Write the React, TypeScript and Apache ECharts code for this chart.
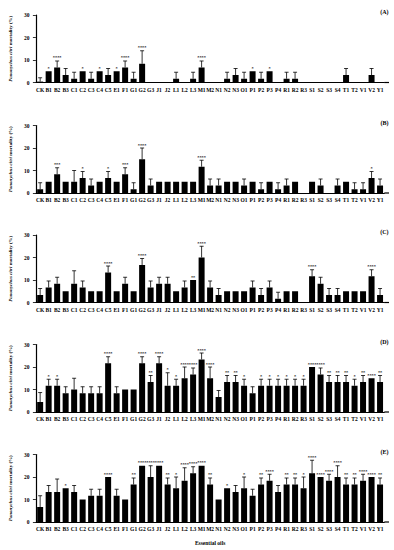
import React, { useEffect, useRef } from 'react';
import * as echarts from 'echarts';

const categories = ['CK', 'B1', 'B2', 'B3', 'C1', 'C2', 'C3', 'C4', 'C5', 'E1', 'F1', 'G1', 'G2', 'G3', 'J1', 'J2', 'L1', 'L2', 'L3', 'M1', 'M2', 'N1', 'N2', 'N3', 'O1', 'P1', 'P2', 'P3', 'P4', 'R1', 'R2', 'R3', 'S1', 'S2', 'S3', 'S4', 'T1', 'T2', 'V1', 'V2', 'Y1'];

// Panel A
const meanA = [0.4, 5, 6.67, 3.33, 1.67, 5, 1.67, 5, 3.33, 5, 6.67, 1.67, 8.33, 0, 0, 0, 1.67, 0, 1.67, 6.67, 0, 0, 1.67, 3.33, 1.67, 5, 1.67, 5, 0, 1.67, 1.67, 0, 0, 0, 0, 0, 3.33, 0, 0, 3.33, 0];
const sdA = [1.7, 0, 2.89, 2.89, 2.89, 0, 2.89, 0, 2.89, 0, 2.89, 2.89, 5.77, 0, 0, 0, 2.89, 0, 2.89, 2.89, 0, 0, 2.89, 2.89, 2.89, 0, 2.89, 0, 0, 2.89, 2.89, 0, 0, 0, 0, 0, 2.89, 0, 0, 2.89, 0];
const sigA = ['', '*', '****', '', '', '*', '', '*', '', '*', '****', '', '****', '', '', '', '', '', '', '****', '', '', '', '', '', '*', '', '*', '', '', '', '', '', '', '', '', '', '', '', '', ''];

// Panel B
const meanB = [1.67, 5, 8.33, 5, 5, 6.67, 3.33, 5, 6.67, 5, 8.33, 1.67, 15, 3.33, 5, 5, 5, 5, 5, 11.67, 3.33, 3.33, 5, 5, 3.33, 5, 1.67, 5, 1.67, 3.33, 5, 0, 5, 3.33, 0, 3.33, 5, 1.67, 1.67, 6.67, 3.33];
const sdB = [2.89, 0, 2.89, 0, 5, 2.89, 2.89, 0, 2.89, 0, 2.89, 2.89, 5, 2.89, 0, 0, 0, 0, 0, 2.89, 2.89, 2.89, 0, 0, 2.89, 0, 2.89, 0, 2.89, 2.89, 0, 0, 0, 2.89, 0, 2.89, 0, 2.89, 2.89, 2.89, 2.89];
const sigB = ['', '', '***', '', '', '*', '', '', '*', '', '***', '', '****', '', '', '', '', '', '', '****', '', '', '', '', '', '', '', '', '', '', '', '', '', '', '', '', '', '', '', '*', ''];

// Panel C
const meanC = [3.33, 6.67, 8.33, 5, 8.33, 6.67, 5, 5, 13.33, 5, 8.33, 5, 16.67, 6.67, 8.33, 8.33, 5, 6.67, 10, 20, 6.67, 3.33, 5, 5, 5, 6.67, 3.33, 6.67, 1.67, 5, 5, 0, 11.67, 8.33, 3.33, 3.33, 5, 5, 5, 11.67, 3.33];
const sdC = [2.89, 2.89, 2.89, 0, 5.77, 2.89, 0, 0, 2.89, 0, 2.89, 0, 2.89, 2.89, 2.89, 2.89, 0, 2.89, 0, 5, 2.89, 2.89, 0, 0, 0, 2.89, 2.89, 2.89, 2.89, 0, 0, 0, 2.89, 2.89, 2.89, 2.89, 0, 0, 0, 2.89, 2.89];
const sigC = ['', '', '', '', '', '', '', '', '****', '', '', '', '****', '', '', '', '', '', '**', '****', '', '', '', '', '', '', '', '', '', '', '', '', '****', '', '', '', '', '', '', '****', ''];

// Panel D
const meanD = [4.44, 11.67, 11.67, 8.33, 10, 8.33, 8.33, 8.33, 21.67, 8.33, 10, 10, 21.67, 13.33, 21.67, 11.67, 11.67, 15, 16.67, 23.33, 15, 6.67, 13.33, 13.33, 11.67, 8.33, 11.67, 11.67, 11.67, 11.67, 11.67, 11.67, 20, 16.67, 13.33, 13.33, 13.33, 11.67, 13.33, 15, 13.33];
const sdD = [4.2, 2.89, 2.89, 2.89, 5, 2.89, 2.89, 2.89, 2.89, 2.89, 0, 0, 2.89, 2.89, 2.89, 5.77, 2.89, 5, 2.89, 2.89, 5, 2.89, 2.89, 2.89, 2.89, 2.89, 2.89, 2.89, 2.89, 2.89, 2.89, 2.89, 0, 2.89, 2.89, 2.89, 2.89, 2.89, 2.89, 0, 2.89];
const sigD = ['', '*', '*', '', '', '', '', '', '****', '', '', '', '****', '**', '****', '*', '*', '****', '****', '****', '****', '', '**', '**', '*', '', '*', '*', '*', '*', '*', '*', '****', '****', '**', '**', '**', '*', '**', '****', '**'];

// Panel E
const meanE = [6.67, 13.33, 13.33, 15, 13.33, 10, 11.67, 11.67, 20, 11.67, 10, 16.67, 25, 20, 25, 16.67, 15, 18.33, 21.67, 25, 16.67, 10, 15, 13.33, 15, 11.67, 16.67, 18.33, 13.33, 16.67, 16.67, 15, 21.67, 20, 18.33, 20, 16.67, 16.67, 18.33, 20, 16.67];
const sdE = [5, 2.89, 5.77, 0, 2.89, 0, 2.89, 2.89, 0, 2.89, 0, 2.89, 0, 5, 0, 2.89, 5, 5.77, 2.89, 0, 2.89, 0, 0, 2.89, 5, 2.89, 2.89, 2.89, 2.89, 2.89, 2.89, 5, 5.77, 0, 2.89, 5, 2.89, 2.89, 2.89, 0, 2.89];
const sigE = ['', '', '', '*', '', '', '', '', '****', '', '', '**', '****', '****', '****', '**', '*', '****', '****', '****', '**', '', '*', '', '*', '', '**', '****', '', '**', '**', '*', '****', '****', '****', '****', '**', '**', '****', '****', '**'];

const panelLabels = ['(A)', '(B)', '(C)', '(D)', '(E)'];
const yMin = 0;
const yMax = 30;
const yInterval = 10;
const xTitle = 'Essential oils';

const FONT = '"Liberation Serif", "Times New Roman", serif';
const GRID_TOPS = [15, 125.5, 235, 344.5, 454.5];
const GRID_H = 67.5;
const GRID_LEFT = 24.5;
const GRID_RIGHT = 9.7;
const W = 394;

export default function App() {
  const ref = useRef<HTMLDivElement>(null);
  useEffect(() => {
    const chart = echarts.init(ref.current!, null, { renderer: 'svg' });
    const panels = [
      { mean: meanA, sd: sdA, sig: sigA },
      { mean: meanB, sd: sdB, sig: sigB },
      { mean: meanC, sd: sdC, sig: sigC },
      { mean: meanD, sd: sdD, sig: sigD },
      { mean: meanE, sd: sdE, sig: sigE },
    ];
    const grids: any[] = [];
    const xAxes: any[] = [];
    const yAxes: any[] = [];
    const series: any[] = [];
    const graphics: any[] = [];
    panels.forEach((p, i) => {
      grids.push({ left: GRID_LEFT, right: GRID_RIGHT, top: GRID_TOPS[i], height: GRID_H });
      const xa: any = {
        type: 'category',
        gridIndex: i,
        data: categories,
        axisLine: { lineStyle: { color: '#000', width: 1.2 } },
        axisTick: { alignWithLabel: true, length: 2, lineStyle: { color: '#000', width: 0.8 } },
        axisLabel: { interval: 0, fontSize: 5.5, fontWeight: 'bold', fontFamily: FONT, color: '#000', margin: 4 },
      };
      if (i === 4) {
        xa.name = xTitle;
        xa.nameLocation = 'middle';
        xa.nameGap = 18;
        xa.nameTextStyle = { fontSize: 5.5, fontWeight: 'bold', fontFamily: FONT, color: '#000' };
      }
      xAxes.push(xa);
      yAxes.push({
        type: 'value',
        gridIndex: i,
        min: yMin,
        max: yMax,
        interval: yInterval,
        axisLine: { show: true, lineStyle: { color: '#000', width: 1.2 } },
        axisTick: { show: true, length: 3, lineStyle: { color: '#000', width: 0.8 } },
        splitLine: { show: false },
        axisLabel: { fontSize: 5.5, fontWeight: 'bold', fontFamily: FONT, color: '#000', margin: 6.5 },
        name: '{i|Panonychus citri} mortality (%)',
        nameLocation: 'middle',
        nameRotate: 90,
        nameGap: 14,
        nameTextStyle: {
          fontSize: 5,
          fontWeight: 'bold',
          fontFamily: FONT,
          color: '#000',
          rich: { i: { fontSize: 5, fontWeight: 'bold', fontStyle: 'italic', fontFamily: FONT, color: '#000' } },
        },
      });
      series.push({
        type: 'bar',
        xAxisIndex: i,
        yAxisIndex: i,
        data: p.mean,
        barWidth: 6,
        itemStyle: { color: '#000' },
        silent: true,
      });
      series.push({
        type: 'custom',
        xAxisIndex: i,
        yAxisIndex: i,
        data: p.mean.map((m, k) => [k, m + p.sd[k]]),
        encode: { x: 0, y: 1 },
        z: 5,
        silent: true,
        renderItem: (params: any, api: any) => {
          const k = params.dataIndex;
          const m = p.mean[k];
          const s = p.sd[k];
          const sig = p.sig[k];
          const base = api.coord([k, m]);
          const top = api.coord([k, m + s]);
          const children: any[] = [];
          if (s > 0) {
            children.push({
              type: 'line',
              shape: { x1: base[0], y1: base[1], x2: top[0], y2: top[1] },
              style: { stroke: '#000', lineWidth: 0.8 },
            });
            children.push({
              type: 'line',
              shape: { x1: top[0] - 2, y1: top[1], x2: top[0] + 2, y2: top[1] },
              style: { stroke: '#000', lineWidth: 0.8 },
            });
          }
          if (sig) {
            children.push({
              type: 'text',
              x: top[0],
              y: top[1] - 3,
              style: {
                text: sig,
                fill: '#000',
                font: `bold 4.3px ${FONT}`,
                align: 'center',
                verticalAlign: 'middle',
              },
            });
          }
          return { type: 'group', children };
        },
      });
      const y0 = GRID_TOPS[i] + GRID_H;
      graphics.push({
        type: 'line',
        shape: { x1: W - GRID_RIGHT, y1: y0, x2: 389, y2: y0 },
        style: { stroke: '#000', lineWidth: 1.2 },
      });
      graphics.push({
        type: 'text',
        right: 5.5,
        top: GRID_TOPS[i] - 6,
        style: { text: panelLabels[i], fill: '#000', font: `bold 6px ${FONT}` },
      });
    });
    chart.setOption({
      animation: false,
      backgroundColor: '#fff',
      grid: grids,
      xAxis: xAxes,
      yAxis: yAxes,
      series,
      graphic: graphics,
    });
    return () => chart.dispose();
  }, []);
  return <div ref={ref} style={{ position: 'absolute', left: 0, top: 0, width: W, height: 550 }} />;
}
